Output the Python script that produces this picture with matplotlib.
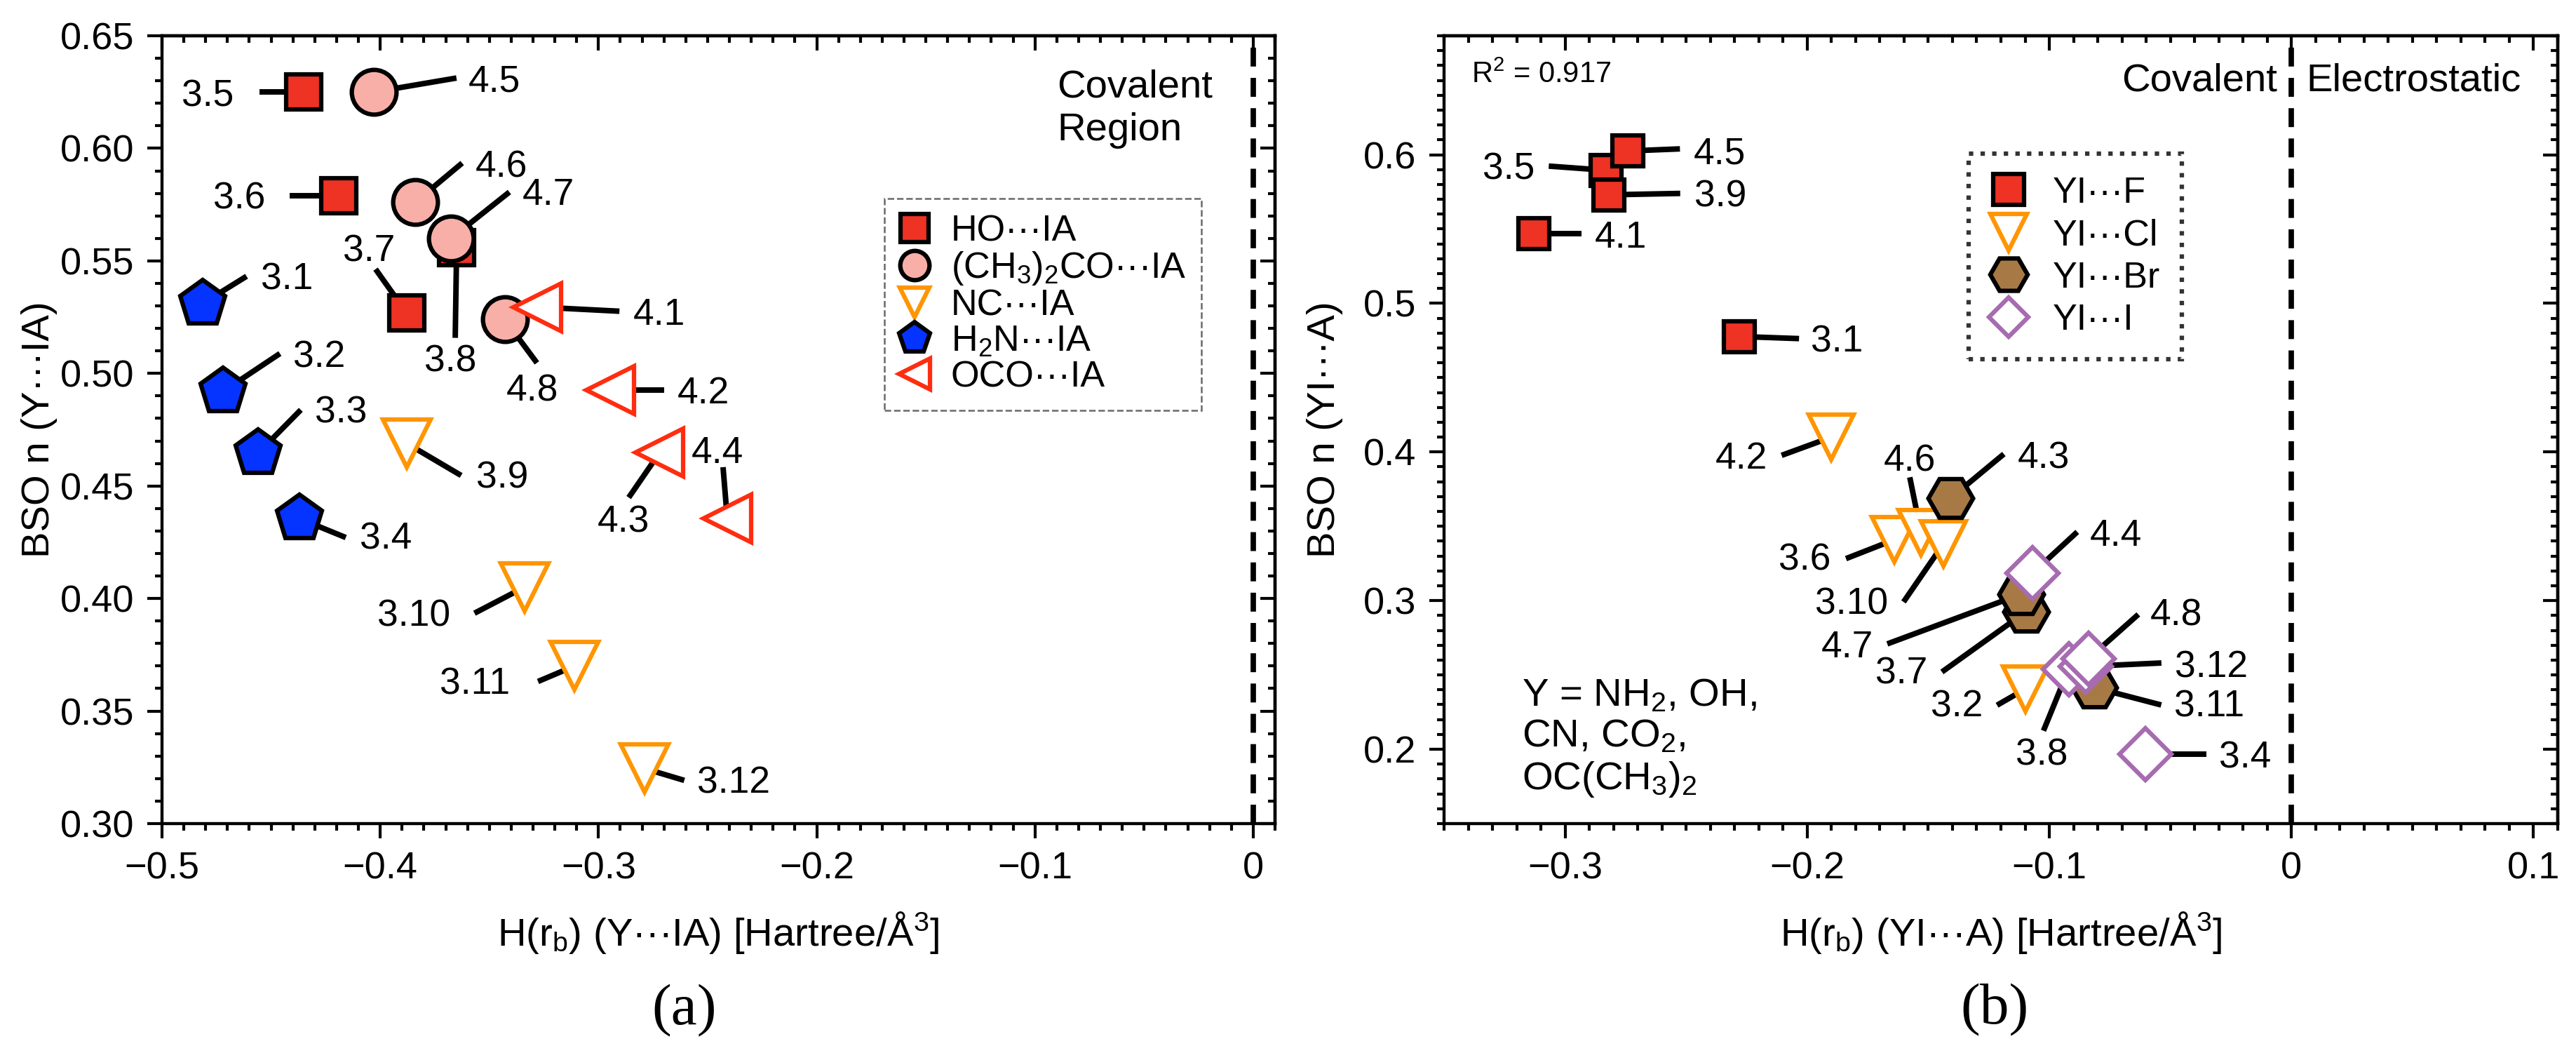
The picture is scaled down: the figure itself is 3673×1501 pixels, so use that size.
import matplotlib
matplotlib.use('Agg')
import matplotlib.pyplot as plt
from matplotlib.lines import Line2D

plt.rcParams['font.family'] = ['Liberation Sans', 'DejaVu Sans']
plt.rcParams['mathtext.fontset'] = 'custom'
plt.rcParams['mathtext.rm'] = 'Liberation Sans'
plt.rcParams['mathtext.it'] = 'Liberation Sans:italic'
plt.rcParams['mathtext.bf'] = 'Liberation Sans:bold'
plt.rcParams['mathtext.default'] = 'regular'
plt.rcParams['axes.unicode_minus'] = True

DOTS = '\u00b7\u00b7\u00b7'

# ---------------- data: panel (a) ----------------
a_ho_labels = ['3.5', '3.6', '3.7', '3.8']
a_ho_x = [-0.435, -0.419, -0.388, -0.365]
a_ho_y = [0.625, 0.579, 0.527, 0.556]

a_ac_labels = ['4.5', '4.6', '4.7', '4.8']
a_ac_x = [-0.403, -0.384, -0.3675, -0.343]
a_ac_y = [0.625, 0.576, 0.560, 0.524]

a_nc_labels = ['3.9', '3.10', '3.11', '3.12']
a_nc_x = [-0.388, -0.334, -0.311, -0.279]
a_nc_y = [0.469, 0.405, 0.370, 0.3245]

a_nh_labels = ['3.1', '3.2', '3.3', '3.4']
a_nh_x = [-0.4815, -0.472, -0.456, -0.437]
a_nh_y = [0.531, 0.492, 0.4645, 0.4355]

a_oco_labels = ['4.1', '4.2', '4.3', '4.4']
a_oco_x = [-0.328, -0.2945, -0.272, -0.241]
a_oco_y = [0.5295, 0.4926, 0.4648, 0.4356]

a_series_names = ['HO' + DOTS + 'IA', '(CH$_3$)$_2$CO' + DOTS + 'IA', 'NC' + DOTS + 'IA',
                  'H$_2$N' + DOTS + 'IA', 'OCO' + DOTS + 'IA']
a_xticklabels = ['\u22120.5', '\u22120.4', '\u22120.3', '\u22120.2', '\u22120.1', '0']
a_xticks = [-0.5, -0.4, -0.3, -0.2, -0.1, 0.0]
a_yticklabels = ['0.30', '0.35', '0.40', '0.45', '0.50', '0.55', '0.60', '0.65']
a_yticks = [0.30, 0.35, 0.40, 0.45, 0.50, 0.55, 0.60, 0.65]

# ---------------- data: panel (b) ----------------
b_f_labels = ['3.5', '4.5', '3.9', '4.1', '3.1']
b_f_x = [-0.283, -0.274, -0.282, -0.313, -0.228]
b_f_y = [0.5895, 0.6025, 0.573, 0.5467, 0.4777]

b_cl_labels = ['4.2', '3.6', '4.6', '3.10', '3.2']
b_cl_x = [-0.190, -0.164, -0.153, -0.1437, -0.110]
b_cl_y = [0.410, 0.341, 0.3457, 0.3383, 0.2405]

b_br_labels = ['4.3', '3.7', '4.7', '3.11']
b_br_x = [-0.1408, -0.1096, -0.1116, -0.0816]
b_br_y = [0.3689, 0.2926, 0.3044, 0.2416]

b_i_labels = ['4.4', '3.4', '3.8', '3.12', '4.8']
b_i_x = [-0.107, -0.0604, -0.092, -0.085, -0.0838]
b_i_y = [0.3184, 0.1966, 0.254, 0.2557, 0.261]

b_series_names = ['YI' + DOTS + 'F', 'YI' + DOTS + 'Cl', 'YI' + DOTS + 'Br', 'YI' + DOTS + 'I']
b_xticklabels = ['\u22120.3', '\u22120.2', '\u22120.1', '0', '0.1']
b_xticks = [-0.3, -0.2, -0.1, 0.0, 0.1]
b_yticklabels = ['0.2', '0.3', '0.4', '0.5', '0.6']
b_yticks = [0.2, 0.3, 0.4, 0.5, 0.6]
b_r2_text = 'R$^2$ = 0.917'

# ---------------- label layout (pixel offsets: leader end, text anchor, ha) -------------
a_ho_lay = [((-63, 0), (-100, -1), 'right'), ((-70, 0), (-105, 0), 'right'),
            ((-44, 62), (-53, 92), 'center'), ((-2, -129), (-9, -158), 'center')]
a_ac_lay = [((118, 20), (135, 20), 'left'), ((67, 56), (86, 55), 'left'),
            ((83, 66), (101, 67), 'left'), ((46, -62), (39, -97), 'center')]
a_nc_lay = [((78, -46), (99, -45), 'left'), ((-71, -37), (-105, -36), 'right'),
            ((-52, -22), (-92, -21), 'right'), ((57, -17), (75, -16), 'left')]
a_nh_lay = [((63, 39), (83, 39), 'left'), ((81, 54), (100, 54), 'left'),
            ((61, 62), (81, 63), 'left'), ((66, -27), (86, -24), 'left')]
a_oco_lay = [((117, -6), (137, -6), 'left'), ((77, 0), (95, 0), 'left'),
             ((-44, -64), (-52, -94), 'center'), ((-6, 73), (-14, 98), 'center')]

b_f_lay = [((-82, 6), (-102, 6), 'right'), ((74, 3), (93, 1), 'left'),
           ((102, 2), (122, 2), 'left'), ((68, 0), (87, 0), 'left'),
           ((85, -3), (102, -3), 'left')]
b_cl_lay = [((-71, -26), (-91, -26), 'right'), ((-69, -27), (-91, -24), 'right'),
            ((-16, 79), (-16, 107), 'center'), ((-57, -83), (-79, -81), 'right'),
            ((-40, -23), (-60, -20), 'right')]
b_br_lay = [((76, 63), (96, 62), 'left'), ((-120, -86), (-141, -84), 'right'),
            ((-191, -71), (-211, -71), 'right'), ((96, -25), (114, -22), 'left')]
b_i_lay = [((64, 59), (82, 58), 'left'), ((87, 0), (105, 0), 'left'),
           ((-36, -88), (-38, -118), 'center'), ((108, 5), (127, 4), 'left'),
           ((71, 63), (88, 66), 'left')]

# ---------------- styles ----------------
W, H, DPI = 3673, 1501, 300
RED = '#EE3224'
PINK = '#F8AFA8'
ORANGE = '#FF9500'
BLUE = '#0533FF'
RED2 = '#FF2D10'
BROWN = '#A77A45'
PURPLE = '#A66BB0'
LAB_FS = 12.8
TICK_FS = 13
AXLAB_FS = 13.5

fig = plt.figure(figsize=(W / DPI, H / DPI), dpi=DPI)
axA = fig.add_axes([231 / W, 1 - 1174 / H, (1818 - 231) / W, (1174 - 51) / H])
axB = fig.add_axes([2059 / W, 1 - 1174 / H, (3647 - 2059) / W, (1174 - 51) / H])

axA.set_xlim(-0.5, 0.01)
axA.set_ylim(0.30, 0.65)
axB.set_xlim(-0.35, 0.11)
axB.set_ylim(0.15, 0.68)


def px2data(ax, dx, dy):
    pos = ax.get_position()
    x0, x1 = ax.get_xlim()
    y0, y1 = ax.get_ylim()
    return dx * (x1 - x0) / (pos.width * W), dy * (y1 - y0) / (pos.height * H)


def draw_series(ax, xs, ys, labels, lay, marker, ms, fc, ec, z):
    ax.plot(xs, ys, ls='none', marker=marker, ms=ms, mfc=fc, mec=ec, mew=1.5, zorder=z)
    for x, y, lab, (loff, toff, ha) in zip(xs, ys, labels, lay):
        lx, ly = px2data(ax, *loff)
        ax.plot([x, x + lx], [y, y + ly], color='black', lw=1.9,
                solid_capstyle='butt', zorder=2)
        base_shift = 0.358 * LAB_FS * DPI / 72.0
        tx, ty = px2data(ax, toff[0], toff[1] - base_shift)
        ax.text(x + tx, y + ty, lab, ha=ha, va='baseline', fontsize=LAB_FS, zorder=8)


def style_axes(ax, xticks, xlabels, yticks, ylabels):
    for sp in ax.spines.values():
        sp.set_linewidth(1.05)
    ax.set_xticks(xticks, xlabels)
    ax.set_yticks(yticks, ylabels)
    x0, x1 = ax.get_xlim()
    y0, y1 = ax.get_ylim()
    xmin = [round(v * 0.01, 4) for v in range(int(round(x0 * 100)), int(round(x1 * 100)) + 1)]
    ymin = [round(v * 0.01, 4) for v in range(int(round(y0 * 100)), int(round(y1 * 100)) + 1)]
    ax.set_xticks(xmin, minor=True)
    ax.set_yticks(ymin, minor=True)
    ax.tick_params(which='major', direction='out', length=5, width=1.0, labelsize=TICK_FS, pad=4.5)
    ax.tick_params(which='minor', direction='out', length=2.5, width=1.0)
    sx = ax.secondary_xaxis('top')
    sx.set_xticks(xticks, [])
    sx.set_xticks(xmin, minor=True)
    sx.tick_params(which='major', direction='in', length=5, width=1.0)
    sx.tick_params(which='minor', direction='in', length=2.5, width=1.0)
    sx.spines['top'].set_linewidth(1.05)
    sy = ax.secondary_yaxis('right')
    sy.set_yticks(yticks, [])
    sy.set_yticks(ymin, minor=True)
    sy.tick_params(which='major', direction='in', length=5, width=1.0)
    sy.tick_params(which='minor', direction='in', length=2.5, width=1.0)
    sy.spines['right'].set_linewidth(1.05)
    ax.axvline(0, color='black', lw=1.85, ls=(0, (3.5, 2.1)), zorder=1)


style_axes(axA, a_xticks, a_xticklabels, a_yticks, a_yticklabels)
style_axes(axB, b_xticks, b_xticklabels, b_yticks, b_yticklabels)

# ---------------- panel (a) ----------------
draw_series(axA, a_ho_x, a_ho_y, a_ho_labels, a_ho_lay, 's', 12, RED, 'black', 3)
draw_series(axA, a_ac_x, a_ac_y, a_ac_labels, a_ac_lay, 'o', 15.3, PINK, 'black', 4)
draw_series(axA, a_nc_x, a_nc_y, a_nc_labels, a_nc_lay, 'v', 16.5, 'white', ORANGE, 5)
draw_series(axA, a_nh_x, a_nh_y, a_nh_labels, a_nh_lay, 'p', 16.4, BLUE, 'black', 6)
draw_series(axA, a_oco_x, a_oco_y, a_oco_labels, a_oco_lay, '<', 16.5, 'white', RED2, 7)

axA.set_xlabel('H(r$_b$) (Y' + DOTS + 'IA) [Hartree/\u00c5$^3$]', fontsize=AXLAB_FS, labelpad=8)
axA.set_ylabel('BSO n (Y' + DOTS + 'IA)', fontsize=AXLAB_FS, labelpad=1)
axA.text(0.804, 0.958, 'Covalent\nRegion', transform=axA.transAxes, ha='left', va='top',
         fontsize=13.5, linespacing=1.25)

a_handles = [
    Line2D([], [], ls='none', marker='s', ms=9.8, mfc=RED, mec='black', mew=1.5),
    Line2D([], [], ls='none', marker='o', ms=10.0, mfc=PINK, mec='black', mew=1.5),
    Line2D([], [], ls='none', marker='v', ms=10.0, mfc='white', mec=ORANGE, mew=1.5),
    Line2D([], [], ls='none', marker='p', ms=11.0, mfc=BLUE, mec='black', mew=1.5),
    Line2D([], [], ls='none', marker='<', ms=10.5, mfc='white', mec=RED2, mew=1.5),
]
legA = axA.legend(a_handles, a_series_names, loc='upper left', bbox_to_anchor=(0.649, 0.793),
                  borderaxespad=0, fontsize=12.5, frameon=True, fancybox=False,
                  handlelength=0.8, handletextpad=0.6, borderpad=0.42, labelspacing=0.04)
fr = legA.get_frame()
fr.set_edgecolor('#444444')
fr.set_linewidth(0.6)
fr.set_linestyle('--')
legA.set_zorder(10)

# ---------------- panel (b) ----------------
draw_series(axB, b_f_x, b_f_y, b_f_labels, b_f_lay, 's', 10.5, RED, 'black', 3)
draw_series(axB, b_cl_x, b_cl_y, b_cl_labels, b_cl_lay, 'v', 15.5, 'white', ORANGE, 4)
draw_series(axB, b_br_x, b_br_y, b_br_labels, b_br_lay, 'H', 15.3, BROWN, 'black', 5)
draw_series(axB, b_i_x, b_i_y, b_i_labels, b_i_lay, 'D', 12.4, 'white', PURPLE, 6)

axB.set_xlabel('H(r$_b$) (YI' + DOTS + 'A) [Hartree/\u00c5$^3$]', fontsize=AXLAB_FS, labelpad=8)
axB.set_ylabel('BSO n (YI' + DOTS + 'A)', fontsize=AXLAB_FS, labelpad=7)
axB.text(0.0246, 0.968, b_r2_text, transform=axB.transAxes, ha='left', va='top', fontsize=10)
axB.text(-0.006, 0.966, 'Covalent', transform=axB.get_xaxis_transform(), ha='right', va='top',
         fontsize=13.5)
axB.text(0.006, 0.966, 'Electrostatic', transform=axB.get_xaxis_transform(), ha='left', va='top',
         fontsize=13.5)
axB.text(0.07, 0.185, 'Y = NH$_2$, OH,\nCN, CO$_2$,\nOC(CH$_3$)$_2$', transform=axB.transAxes,
         ha='left', va='top', fontsize=13.5, linespacing=1.15)

b_handles = [
    Line2D([], [], ls='none', marker='s', ms=10.5, mfc=RED, mec='black', mew=1.5),
    Line2D([], [], ls='none', marker='v', ms=12.5, mfc='white', mec=ORANGE, mew=1.5),
    Line2D([], [], ls='none', marker='H', ms=12.8, mfc=BROWN, mec='black', mew=1.5),
    Line2D([], [], ls='none', marker='D', ms=9.5, mfc='white', mec=PURPLE, mew=1.5),
]
legB = axB.legend(b_handles, b_series_names, loc='upper left', bbox_to_anchor=(0.471, 0.850),
                  borderaxespad=0, fontsize=12.5, frameon=True, fancybox=False,
                  handlelength=1.0, handletextpad=0.7, borderpad=0.6, labelspacing=0.22)
fr = legB.get_frame()
fr.set_edgecolor('black')
fr.set_linewidth(1.5)
fr.set_linestyle(':')
legB.set_zorder(10)

fig.text(976 / W, 1 - 1441 / H, '(a)', ha='center', va='center', fontsize=20,
         family='Liberation Serif')
fig.text(2844 / W, 1 - 1440 / H, '(b)', ha='center', va='center', fontsize=20,
         family='Liberation Serif')

fig.savefig('out.png', dpi=DPI)
